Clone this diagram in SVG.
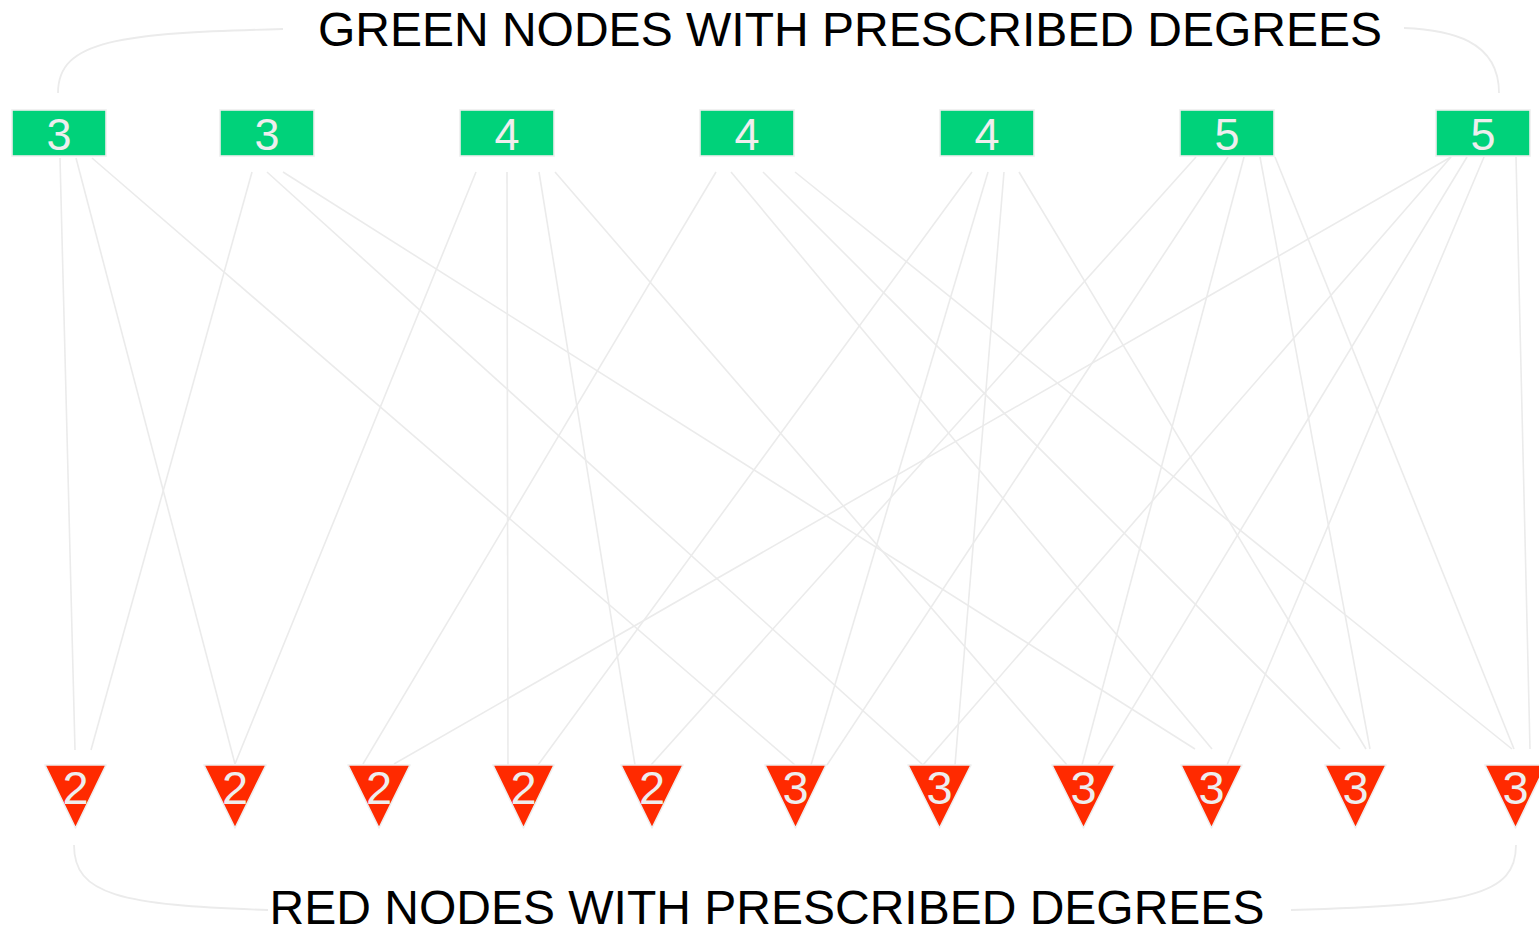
<svg xmlns="http://www.w3.org/2000/svg" width="1539" height="929" viewBox="0 0 1539 929">
<style>
.e{stroke:#ebebeb;stroke-width:1.6;fill:none}
.b{stroke:#ebebeb;stroke-width:1.8;fill:none}
.g{fill:#00d27a;stroke:#eeeeee;stroke-width:1.6}
.r{fill:#ff2a00;stroke:#eeeeee;stroke-width:1.6;stroke-linejoin:round}
.gl{font-family:"Liberation Sans",Arial,sans-serif;font-size:45px;fill:#eeeeee;text-anchor:middle}
.rl{font-family:"Liberation Sans",Arial,sans-serif;font-size:47px;fill:#eeeeee;text-anchor:middle}
.t{font-family:"Liberation Sans",Arial,sans-serif;font-size:48px;fill:#000;text-anchor:middle}
</style>
<rect width="1539" height="929" fill="#ffffff"/>
<g id="brackets">
<path class="b" d="M283,29 C120,33 58,40 58,93"/>
<path class="b" d="M1404,28 C1450,30 1499,40 1499,93"/>
<path class="b" d="M74,845 C74,895 120,905 268,910"/>
<path class="b" d="M1516,845 C1516,895 1470,905 1291,910"/>
</g>
<g id="titles">
<text class="t" x="850" y="46">GREEN NODES WITH PRESCRIBED DEGREES</text>
<text class="t" x="767" y="924">RED NODES WITH PRESCRIBED DEGREES</text>
</g>
<g id="connectors">
<line class="e" x1="60" y1="158" x2="75" y2="750"/>
<line class="e" x1="76" y1="158" x2="235" y2="764"/>
<line class="e" x1="92" y1="158" x2="795" y2="765"/>
<line class="e" x1="252" y1="172" x2="91" y2="750"/>
<line class="e" x1="267" y1="172" x2="923" y2="765"/>
<line class="e" x1="283" y1="172" x2="1195" y2="749"/>
<line class="e" x1="476" y1="172" x2="235" y2="764"/>
<line class="e" x1="507" y1="172" x2="508" y2="765"/>
<line class="e" x1="539" y1="172" x2="635" y2="765"/>
<line class="e" x1="555" y1="172" x2="1067" y2="765"/>
<line class="e" x1="716" y1="172" x2="363" y2="764"/>
<line class="e" x1="731" y1="172" x2="1212" y2="749"/>
<line class="e" x1="763" y1="172" x2="1340" y2="749"/>
<line class="e" x1="795" y1="172" x2="1512" y2="749"/>
<line class="e" x1="972" y1="172" x2="538" y2="765"/>
<line class="e" x1="988" y1="172" x2="811" y2="765"/>
<line class="e" x1="1004" y1="172" x2="955" y2="765"/>
<line class="e" x1="1019" y1="172" x2="1366" y2="749"/>
<line class="e" x1="1196" y1="157" x2="651" y2="765"/>
<line class="e" x1="1228" y1="157" x2="827" y2="765"/>
<line class="e" x1="1244" y1="157" x2="1082" y2="765"/>
<line class="e" x1="1260" y1="157" x2="1370" y2="749"/>
<line class="e" x1="1275" y1="157" x2="1514" y2="749"/>
<line class="e" x1="1451" y1="157" x2="394" y2="764"/>
<line class="e" x1="1451" y1="157" x2="923" y2="765"/>
<line class="e" x1="1467" y1="157" x2="1098" y2="765"/>
<line class="e" x1="1484" y1="157" x2="1227" y2="765"/>
<line class="e" x1="1516" y1="157" x2="1530" y2="749"/>
</g>
<g id="g1"><rect class="g" x="12" y="110" width="94" height="46"/><text class="gl" x="59" y="150">3</text></g>
<g id="g2"><rect class="g" x="220" y="110" width="94" height="46"/><text class="gl" x="267" y="150">3</text></g>
<g id="g3"><rect class="g" x="460" y="110" width="94" height="46"/><text class="gl" x="507" y="150">4</text></g>
<g id="g4"><rect class="g" x="700" y="110" width="94" height="46"/><text class="gl" x="747" y="150">4</text></g>
<g id="g5"><rect class="g" x="940" y="110" width="94" height="46"/><text class="gl" x="987" y="150">4</text></g>
<g id="g6"><rect class="g" x="1180" y="110" width="94" height="46"/><text class="gl" x="1227" y="150">5</text></g>
<g id="g7"><rect class="g" x="1436" y="110" width="94" height="46"/><text class="gl" x="1483" y="150">5</text></g>
<g id="r1"><polygon class="r" points="45,765 106,765 75.5,828"/><text class="rl" x="75.5" y="804">2</text></g>
<g id="r2"><polygon class="r" points="204,765 266,765 235,828"/><text class="rl" x="235" y="804">2</text></g>
<g id="r3"><polygon class="r" points="348,765 410,765 379,828"/><text class="rl" x="379" y="804">2</text></g>
<g id="r4"><polygon class="r" points="493,765 554,765 523.5,828"/><text class="rl" x="523.5" y="804">2</text></g>
<g id="r5"><polygon class="r" points="621,765 683,765 652,828"/><text class="rl" x="652" y="804">2</text></g>
<g id="r6"><polygon class="r" points="765,765 826,765 795.5,828"/><text class="rl" x="795.5" y="804">3</text></g>
<g id="r7"><polygon class="r" points="908,765 971,765 939.5,828"/><text class="rl" x="939.5" y="804">3</text></g>
<g id="r8"><polygon class="r" points="1052,765 1115,765 1083.5,828"/><text class="rl" x="1083.5" y="804">3</text></g>
<g id="r9"><polygon class="r" points="1181,765 1242,765 1211.5,828"/><text class="rl" x="1211.5" y="804">3</text></g>
<g id="r10"><polygon class="r" points="1325,765 1386,765 1355.5,828"/><text class="rl" x="1355.5" y="804">3</text></g>
<g id="r11"><polygon class="r" points="1485,765 1546,765 1515.5,828"/><text class="rl" x="1515.5" y="804">3</text></g>
</svg>
